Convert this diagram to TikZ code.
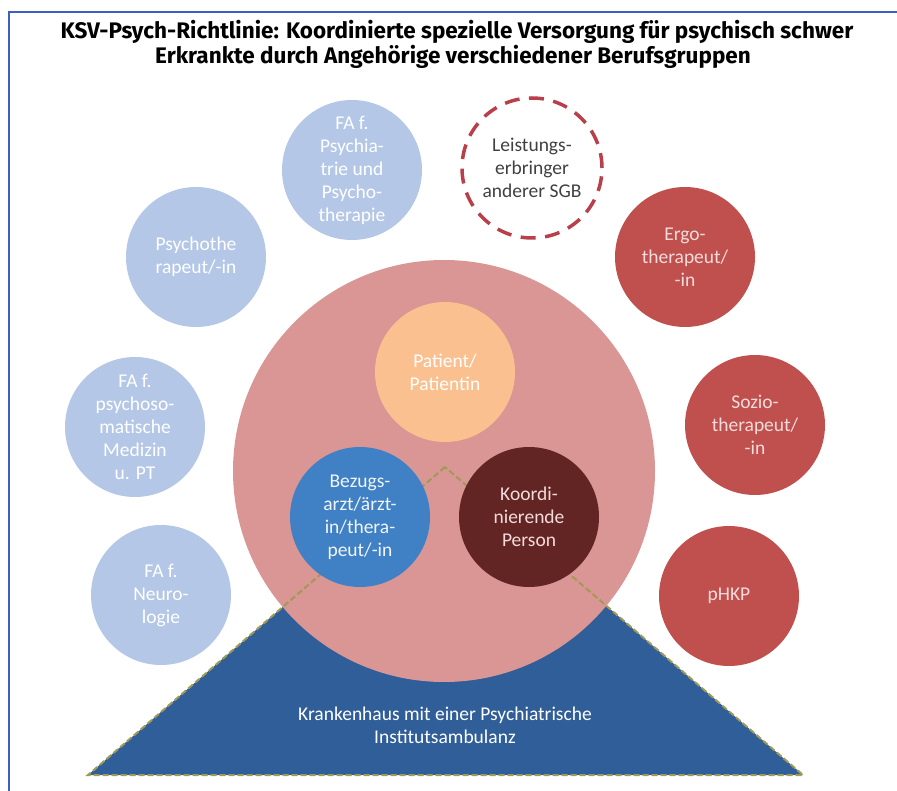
\documentclass[tikz,border=0pt]{standalone}
\usepackage{fontspec}
\setmainfont{Carlito}
\newfontfamily\titlefont{Fira Sans}
\definecolor{framecol}{HTML}{3D5FBF}
\definecolor{lightblue}{HTML}{B4C7E7}
\definecolor{pinkbig}{HTML}{D99694}
\definecolor{patorange}{HTML}{FAC090}
\definecolor{bezblue}{HTML}{4080C4}
\definecolor{koordred}{HTML}{632523}
\definecolor{accred}{HTML}{C0504D}
\definecolor{dashred}{HTML}{B8404A}
\definecolor{tripblue}{HTML}{305E99}
\definecolor{olive}{HTML}{A09A55}
\definecolor{lightpink}{HTML}{F2DCDB}
\begin{document}
\begin{tikzpicture}[x=1pt,y=-1pt,
  bub/.style={circle, minimum size=140pt, inner sep=0pt, align=center,
              font=\fontsize{19.5}{23}\selectfont},
  lblue/.style={bub, fill=lightblue, text=white},
  redc/.style={bub, fill=accred, text=lightpink},
  dashc/.style={bub, draw=dashred, line width=3.5pt, dash pattern=on 15pt off 9.5pt, text=black!75},
  titletext/.style={anchor=base, font=\titlefont\bfseries\fontsize{22.5}{25}\selectfont},
  tritext/.style={align=center, text=white, font=\fontsize{19.5}{23}\selectfont}]
\useasboundingbox (0,0) rectangle (897,791);
\draw[framecol, line width=1.3pt] (9,800) -- (9,12) -- (905,12);
% title
\node[titletext] (t1) at (457,39) {KSV-Psych-Richtlinie: Koordinierte spezielle Versorgung für psychisch schwer};
\node[titletext] (t2) at (453,64) {Erkrankte durch Angehörige verschiedener Berufsgruppen};
% triangle
\coordinate (apex) at (445,467);
\coordinate (bl) at (88,775);
\coordinate (br) at (803,775);
\fill[tripblue] (apex) -- (bl) -- (br) -- cycle;
% big circle
\node[circle, fill=pinkbig, minimum size=422pt, inner sep=0pt] (big) at (444,471) {};
\draw[olive, line width=2pt, dash pattern=on 6pt off 3pt] (apex) -- (bl) -- (br) -- cycle;
\node[tritext] (kh) at (445,725) {Krankenhaus mit einer Psychiatrische\\Institutsambulanz};
% inner circles
\node[bub, fill=patorange, text=white] (pat) at (445,372) {Patient/\\Patientin};
\node[bub, fill=bezblue, text=white!92!bezblue] (bez) at (360,517) {Bezugs-\\arzt/ärzt-\\in/thera-\\peut/-in};
\node[bub, fill=koordred, text=lightpink] (koord) at (529,517) {Koordi-\\nierende\\Person};
% outer left
\node[lblue] (psychia) at (352,170) {FA f.\\Psychia-\\trie und\\Psycho-\\therapie};
\node[lblue] (psychothe) at (196,257) {Psychothe\\rapeut/-in};
\node[lblue] (psychoso) at (135,427) {FA f.\\psychoso-\\matische\\Medizin\\u. PT};
\node[lblue] (neuro) at (161,595) {FA f.\\Neuro-\\logie};
% outer right
\node[dashc] (leist) at (532,168) {Leistungs-\\erbringer\\anderer SGB};
\node[redc] (ergo) at (685,257) {Ergo-\\therapeut/\\-in};
\node[redc] (sozio) at (755,425) {Sozio-\\therapeut/\\-in};
\node[redc] (phkp) at (729,596) {pHKP};
\end{tikzpicture}
\end{document}
